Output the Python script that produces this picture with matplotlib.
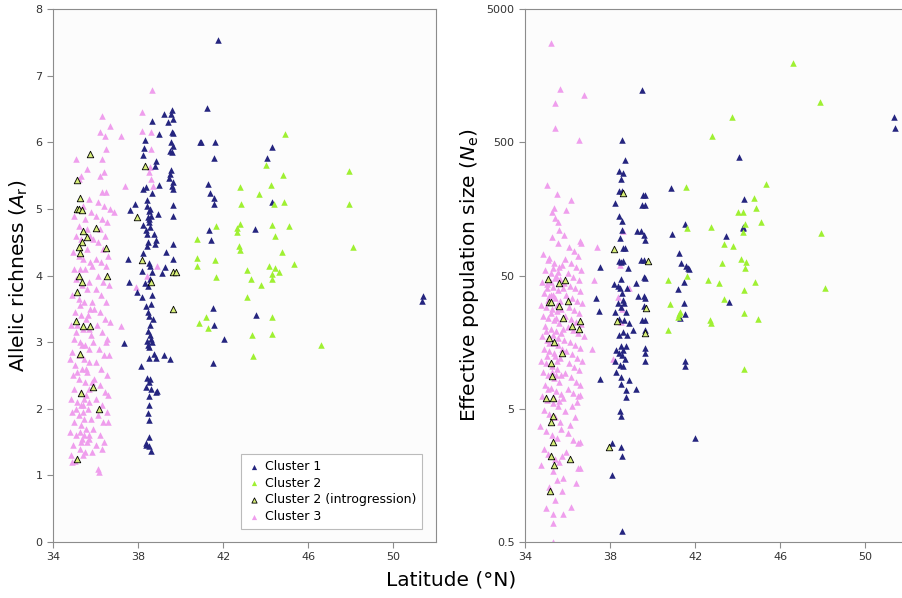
import matplotlib
matplotlib.use("Agg")
import matplotlib.pyplot as plt
import numpy as np

# ---- data: (latitude, allelic richness) ----
cluster1_ar = [
    (41.75, 7.54), (41.23, 6.52), (40.9, 6.01), (40.95, 6.0), (41.6, 6.0), (41.56, 5.77),
    (41.3, 5.38), (41.36, 5.24), (41.56, 5.17), (41.56, 5.08), (41.32, 4.68), (41.43, 4.54),
    (41.54, 3.51), (41.56, 3.25), (42.03, 3.04), (41.5, 2.69),
    (44.06, 5.76), (44.27, 5.93), (44.28, 5.1), (43.48, 4.7), (43.56, 3.41),
    (51.37, 3.69), (51.32, 3.61),
    (37.36, 2.99), (37.54, 4.25), (37.57, 3.9), (37.6, 4.99), (37.87, 5.07), (38.13, 2.64),
    (37.93, 3.75),
    (38.66, 6.32), (38.33, 6.04), (38.26, 5.91), (38.25, 5.81), (38.85, 5.72), (38.8, 5.65),
    (38.98, 5.36), (39.0, 6.12), (38.24, 5.3), (38.35, 5.33), (38.65, 5.24), (38.43, 5.13),
    (38.43, 5.05), (38.5, 4.97), (38.48, 4.88), (38.53, 4.85), (38.55, 4.73), (38.25, 4.76),
    (38.36, 4.69), (38.44, 4.63), (38.74, 4.62), (38.82, 4.54), (38.79, 4.48), (38.93, 4.92),
    (38.44, 4.44), (38.24, 4.34), (38.53, 4.19), (38.2, 4.07), (38.57, 4.14), (38.65, 4.05),
    (38.33, 3.88), (38.48, 3.84), (38.63, 3.71), (38.2, 3.68), (38.36, 3.54), (38.6, 3.57),
    (38.5, 3.39), (38.7, 3.34), (38.45, 3.16), (38.57, 3.11), (38.41, 3.02), (38.63, 3.0),
    (38.5, 2.92), (38.77, 2.82), (38.5, 2.76), (38.85, 2.76), (38.44, 2.46), (38.55, 2.45),
    (38.38, 2.33), (38.6, 2.3), (38.88, 2.26), (38.5, 2.19), (38.52, 2.06), (38.45, 1.94),
    (38.52, 1.83), (38.38, 1.49), (38.52, 1.57), (38.52, 1.44), (38.6, 1.36), (38.35, 1.46),
    (38.55, 5.0), (38.6, 4.9), (38.5, 4.8), (38.45, 4.5), (38.55, 3.95), (38.45, 3.45),
    (38.55, 3.25), (38.6, 3.05), (38.45, 2.95), (38.5, 2.4),
    (39.23, 6.42), (39.42, 6.31), (39.57, 6.49), (39.56, 6.43), (39.64, 6.35), (39.6, 6.15),
    (39.66, 6.14), (39.56, 6.0), (39.64, 5.95), (39.52, 5.87), (39.6, 5.85), (39.56, 5.58),
    (39.51, 5.52), (39.45, 5.47), (39.66, 5.4), (39.6, 5.34), (39.66, 5.3), (39.64, 5.06),
    (39.64, 4.89), (39.64, 4.48), (39.32, 4.35), (39.66, 4.25), (39.13, 4.04), (39.25, 4.13),
    (39.23, 2.8), (39.5, 2.75), (38.85, 2.25),
]

cluster2_ar = [
    (44.9, 6.12), (47.9, 5.57), (47.9, 5.08), (48.1, 4.43), (46.6, 2.96), (44.0, 5.66),
    (44.8, 5.51), (44.25, 5.36), (44.86, 5.11), (44.4, 5.08), (43.7, 5.22), (42.8, 5.33),
    (42.82, 5.07), (42.77, 4.78), (42.64, 4.71), (42.67, 4.65), (42.75, 4.45), (42.78, 4.39),
    (41.64, 4.75), (41.6, 4.24), (41.65, 3.97), (40.76, 4.55), (40.76, 4.27), (40.76, 4.14),
    (44.28, 4.76), (44.42, 4.59), (45.1, 4.74), (44.77, 4.35), (45.33, 4.17), (44.14, 4.14),
    (44.45, 4.12), (44.64, 4.05), (44.3, 4.03), (44.28, 3.95), (43.14, 4.09), (43.3, 3.95),
    (43.78, 3.86), (43.12, 3.68), (44.27, 3.38), (44.27, 3.12), (43.37, 3.1), (43.4, 2.79),
    (41.17, 3.37), (40.87, 3.28), (41.27, 3.21),
]

intro_ar = [
    (35.75, 5.83), (35.13, 5.44), (35.25, 5.16), (35.14, 5.0), (35.22, 5.0), (35.35, 4.99),
    (35.4, 4.67), (36.03, 4.71), (35.58, 4.58), (35.35, 4.5), (35.22, 4.43), (35.25, 4.34),
    (36.5, 4.42), (36.54, 4.0), (35.22, 3.99), (35.35, 3.9), (35.14, 3.75), (35.1, 3.32),
    (35.4, 3.24), (35.75, 3.24), (35.25, 2.82), (35.33, 2.24), (35.9, 2.33), (36.16, 1.99),
    (35.14, 1.24), (37.96, 4.88), (38.2, 4.24), (38.33, 5.65), (38.62, 3.9), (39.65, 3.5),
    (39.65, 4.06), (39.8, 4.05),
]

cluster3_ar = [
    (35.1, 5.75), (35.3, 5.5), (35.2, 5.45), (35.4, 5.05), (35.0, 4.9), (35.2, 4.75),
    (35.5, 4.85), (35.1, 4.6), (35.3, 4.55), (35.6, 4.7), (34.95, 4.35), (35.2, 4.3),
    (35.4, 4.25), (35.0, 4.1), (35.25, 4.1), (35.5, 4.1), (35.1, 3.95), (35.35, 3.85),
    (35.6, 3.8), (34.9, 3.7), (35.2, 3.65), (35.45, 3.6), (35.05, 3.45), (35.3, 3.4),
    (35.55, 3.35), (34.85, 3.25), (35.15, 3.25), (35.4, 3.2), (35.7, 3.2), (35.0, 3.05),
    (35.25, 3.0), (35.5, 2.95), (34.9, 2.85), (35.2, 2.8), (35.45, 2.75), (34.8, 2.75),
    (35.05, 2.65), (35.35, 2.6), (35.6, 2.55), (34.95, 2.5), (35.2, 2.45), (35.5, 2.4),
    (35.0, 2.3), (35.3, 2.25), (35.55, 2.2), (34.85, 2.15), (35.15, 2.1), (35.4, 2.05),
    (35.65, 2.0), (34.9, 1.95), (35.2, 1.9), (35.45, 1.85), (35.0, 1.8), (35.3, 1.75),
    (35.55, 1.7), (34.8, 1.65), (35.1, 1.6), (35.35, 1.55), (35.6, 1.5), (34.95, 1.45),
    (35.25, 1.4), (35.5, 1.35), (34.85, 1.3), (35.05, 1.22), (34.9, 1.2), (35.4, 1.3),
    (35.7, 1.55), (35.7, 2.3), (35.7, 2.9), (35.75, 3.5), (35.75, 4.2),
    (35.25, 3.55), (35.35, 2.95), (35.15, 2.55), (35.45, 2.15), (35.25, 1.65), (35.4, 1.95),
    (35.1, 2.0), (35.3, 2.05), (35.55, 2.6), (35.1, 3.15), (35.3, 1.5), (35.45, 1.6),
    (36.3, 6.4), (36.2, 6.15), (36.45, 6.1), (36.7, 6.25), (36.5, 5.9), (36.3, 5.75),
    (36.4, 5.55), (36.2, 5.5), (36.3, 5.25), (36.5, 5.25), (36.1, 5.1), (36.4, 5.05),
    (36.7, 5.0), (36.85, 4.95), (36.0, 4.9), (36.3, 4.85), (36.55, 4.8), (36.2, 4.7),
    (36.45, 4.6), (35.9, 4.55), (36.1, 4.5), (36.35, 4.4), (36.6, 4.3), (36.0, 4.25),
    (36.25, 4.2), (36.5, 4.15), (36.1, 4.0), (36.35, 3.9), (36.65, 3.85), (36.0, 3.8),
    (36.25, 3.7), (36.5, 3.6), (35.95, 3.5), (36.2, 3.45), (36.45, 3.35), (36.7, 3.3),
    (36.05, 3.25), (36.3, 3.15), (36.55, 3.05), (35.9, 3.0), (36.15, 2.9), (36.4, 2.8),
    (36.65, 2.8), (36.0, 2.7), (36.25, 2.6), (36.55, 2.5), (35.95, 2.45), (36.2, 2.35),
    (36.45, 2.25), (36.0, 2.15), (36.3, 2.05), (36.55, 1.95), (36.1, 1.9), (36.35, 1.8),
    (36.6, 1.8), (35.9, 1.7), (36.2, 1.6), (36.4, 1.5), (36.0, 1.45), (36.3, 1.4),
    (36.1, 1.1), (36.15, 1.05), (36.5, 3.0), (36.6, 2.2),
    (35.7, 5.15), (35.8, 4.95), (35.75, 4.6), (35.6, 4.4), (35.85, 4.15), (35.7, 3.9),
    (35.85, 3.6), (35.65, 3.4), (35.8, 3.1), (35.7, 2.7), (35.85, 2.4), (35.7, 2.1),
    (35.8, 1.85), (35.7, 1.6), (35.85, 1.35), (35.6, 5.6),
    (37.2, 6.1), (37.4, 5.34), (37.2, 3.24), (37.9, 3.82), (38.65, 6.79), (38.2, 6.46),
    (38.2, 6.17), (38.6, 6.15), (38.6, 5.9), (38.55, 5.63), (38.6, 5.45), (38.7, 5.35),
    (38.5, 5.55), (38.4, 4.0), (38.9, 4.15),
]

# ---- data: (latitude, effective population size) ----
cluster1_ne = [
    (39.52, 1236), (38.55, 519), (38.71, 366), (38.4, 304), (38.6, 292), (38.49, 263),
    (38.43, 214), (38.54, 214), (38.24, 175), (38.43, 140), (38.54, 129), (38.57, 109),
    (38.46, 95), (38.62, 80), (38.7, 80), (38.43, 64), (38.6, 64), (38.52, 63), (38.84, 57),
    (37.54, 58), (37.35, 34), (37.5, 27), (37.54, 8.4),
    (38.18, 43.5), (38.37, 42), (38.52, 47), (38.47, 40), (38.57, 37), (38.6, 33),
    (38.39, 31), (38.52, 29), (38.64, 31), (38.24, 26.5), (38.76, 26.5), (38.44, 23.6),
    (38.67, 23), (38.9, 22), (38.6, 18.7), (38.79, 18), (38.4, 17.8), (38.52, 14.8),
    (38.6, 13.9), (38.76, 14.8), (38.29, 13.8), (38.42, 13), (38.56, 12.6), (38.68, 11.8),
    (38.24, 11.4), (38.45, 10.7), (38.6, 10.4), (38.27, 9.4), (38.52, 8.7), (38.49, 7.7),
    (38.9, 8.2), (38.76, 6.9), (38.73, 6.1), (39.22, 7.0), (38.47, 4.85), (38.52, 4.4),
    (38.08, 2.77), (38.51, 2.57), (38.57, 2.2), (38.1, 1.6), (38.54, 0.6), (42.0, 3.0),
    (39.55, 201), (39.62, 201), (39.52, 168), (39.63, 168), (39.25, 107), (39.46, 107),
    (39.58, 100), (39.66, 93), (39.43, 65.5), (39.57, 65.5), (39.58, 48.8), (39.63, 48),
    (39.22, 44), (39.33, 35), (39.58, 35), (39.66, 34), (39.58, 29.7), (39.63, 23),
    (39.49, 23), (39.62, 19.4), (39.66, 14.4), (39.66, 13), (39.65, 11.4), (39.07, 19.4),
    (38.79, 40),
    (40.87, 226), (40.92, 102), (41.26, 74), (41.34, 62), (41.5, 121), (41.58, 59),
    (41.66, 57), (41.73, 56), (41.47, 45), (41.2, 39.5), (41.47, 31), (41.54, 25.5),
    (41.3, 23.9), (41.54, 11.4), (41.54, 10.4),
    (44.08, 388), (44.3, 189), (44.25, 116), (44.23, 113), (43.45, 99), (43.58, 31.6),
    (51.34, 780), (51.37, 636),
]

cluster2_ne = [
    (46.6, 1950), (47.88, 1000), (43.75, 769), (42.8, 557), (41.57, 229), (45.33, 245),
    (44.74, 190), (44.86, 161), (44.0, 149), (44.23, 149), (45.1, 126), (42.76, 116),
    (41.6, 113), (44.23, 106), (44.36, 121), (47.9, 105), (43.37, 86), (43.78, 83.5),
    (44.14, 66), (44.4, 63), (44.36, 57), (43.26, 62.5), (41.6, 50), (40.74, 46),
    (42.6, 46.6), (43.1, 43.6), (44.8, 44.4), (48.09, 40), (44.28, 38.6), (40.8, 30.7),
    (43.37, 33.3), (41.27, 26.5), (41.17, 24.5), (41.23, 25.5), (42.7, 23), (42.72, 22),
    (44.28, 26), (44.94, 23.6), (40.74, 19.6), (44.28, 10),
]

intro_ne = [
    (38.6, 207), (38.18, 78.7), (39.8, 64), (39.68, 28.4), (38.33, 22.7), (39.62, 18.4),
    (37.94, 2.6), (35.1, 47), (35.58, 44.2), (35.9, 46), (35.14, 31.7), (35.2, 31.5),
    (35.58, 29.7), (36.0, 32.4), (35.78, 24.1), (36.2, 21), (36.57, 22.9), (36.54, 19.7),
    (35.14, 17), (35.36, 15.9), (35.74, 13), (35.2, 11), (35.27, 8.8), (35.0, 6.0),
    (35.3, 6.0), (35.3, 4.4), (35.2, 4.0), (35.33, 2.8), (35.2, 2.2), (35.36, 1.9),
    (36.1, 2.1), (35.16, 1.2),
]

cluster3_ne = [
    (35.24, 2760), (35.63, 1250), (35.4, 982), (36.75, 1127), (35.42, 636), (36.52, 522),
    (35.03, 237), (35.5, 205), (35.27, 151), (35.35, 160), (35.55, 126), (35.25, 97),
    (35.56, 88), (34.85, 72), (35.1, 65), (35.35, 62), (35.6, 58), (34.95, 55), (35.2, 52),
    (35.45, 50), (35.65, 47), (34.8, 45), (35.05, 43), (35.3, 41), (35.55, 39), (34.9, 37),
    (35.15, 35), (35.4, 34), (35.65, 32), (34.75, 30), (35.0, 29), (35.25, 28), (35.5, 27),
    (34.85, 25), (35.1, 24), (35.35, 23), (35.6, 22), (34.95, 21), (35.2, 20), (35.45, 19),
    (35.7, 18.5), (34.8, 17.5), (35.05, 16.5), (35.3, 15.5), (35.55, 15), (34.9, 14),
    (35.15, 13.5), (35.4, 12.5), (35.65, 12), (34.75, 11.5), (35.0, 11), (35.25, 10.5),
    (35.5, 10), (34.85, 9.5), (35.1, 9), (35.35, 8.5), (35.6, 8), (34.95, 7.6), (35.2, 7.2),
    (35.45, 6.8), (35.7, 6.5), (34.8, 6.2), (35.05, 5.8), (35.3, 5.5), (35.55, 5.2),
    (34.9, 4.9), (35.15, 4.6), (35.4, 4.3), (35.65, 4.0), (34.72, 3.7), (35.0, 3.4),
    (35.25, 3.2), (35.5, 3.0), (34.88, 2.5), (35.1, 2.3), (35.4, 2.1), (35.6, 2.0),
    (34.75, 1.9), (35.3, 1.7), (35.5, 1.45), (35.0, 0.9), (35.3, 0.81), (35.3, 0.7),
    (35.3, 0.5), (35.42, 1.03), (35.74, 1.2), (35.15, 1.3),
    (35.2, 45), (35.4, 48), (35.1, 33), (35.3, 36), (35.5, 30), (35.2, 26), (35.45, 24),
    (35.0, 19), (35.3, 18), (35.55, 17), (35.15, 15.5), (35.35, 13), (35.05, 12.5),
    (35.5, 11.5), (35.25, 9.5), (35.45, 9), (35.1, 7), (35.35, 6), (35.6, 5.7), (35.2, 36),
    (35.05, 40), (35.55, 53), (35.3, 57), (35.15, 68), (35.6, 110), (35.4, 135),
    (36.14, 185), (35.94, 155), (35.83, 100), (36.6, 91), (36.65, 88), (36.07, 82),
    (36.3, 76), (36.5, 70), (35.9, 67), (36.15, 62), (36.4, 58), (36.65, 55), (36.0, 52),
    (36.25, 49), (36.55, 46), (35.85, 44), (36.1, 42), (36.35, 40), (36.6, 38), (35.95, 36),
    (36.2, 34), (36.45, 32), (36.7, 31), (36.05, 29), (36.3, 27.5), (36.55, 26), (35.9, 25),
    (36.15, 23.5), (36.4, 22.5), (36.65, 21.5), (36.0, 20.5), (36.25, 19.5), (36.5, 18.5),
    (36.75, 17.5), (35.85, 16.5), (36.1, 15.8), (36.35, 15), (36.6, 14.2), (35.95, 13.5),
    (36.2, 12.8), (36.45, 12), (36.7, 11.5), (36.05, 11), (36.3, 10.3), (36.55, 9.7),
    (35.9, 9.2), (36.15, 8.6), (36.4, 8), (36.6, 7.5), (36.0, 7), (36.25, 6.6), (36.5, 6.2),
    (36.57, 6.3), (35.86, 4.85), (36.22, 5.2), (36.45, 5.6), (36.0, 3.3), (36.25, 2.9),
    (36.5, 2.76), (36.6, 2.8), (35.94, 2.35), (36.5, 1.8), (36.6, 1.8), (36.4, 1.38),
    (36.18, 0.91), (35.78, 0.81), (36.1, 3.8), (36.35, 4.3),
    (35.75, 60), (35.8, 40), (35.7, 28), (35.8, 20), (35.75, 14), (35.7, 9), (35.8, 6),
    (35.7, 3.5), (35.75, 2.2), (35.8, 1.5),
    (37.4, 82), (37.22, 46), (37.16, 14), (38.13, 11.8), (38.6, 107), (38.5, 22.4),
    (38.36, 34.7), (38.9, 40), (38.55, 28), (38.45, 60),
]

x_ticks = [34, 38, 42, 46, 50]
ar_ticks = [0, 1, 2, 3, 4, 5, 6, 7, 8]
ne_ticks = [0.5, 5, 50, 500, 5000]
ne_labels = ["0.5", "5", "50", "500", "5000"]

c_navy = "#25257f"
c_lime = "#9ff032"
c_intro = "#d6ee78"
c_pink = "#ef9eed"

fig = plt.figure(figsize=(9.02, 5.98), dpi=100)
ax1 = fig.add_axes([53 / 902, 56 / 598, 383 / 902, 533 / 598])
ax2 = fig.add_axes([525 / 902, 56 / 598, 383 / 902, 533 / 598])


def draw(ax, c1, c2, intro, c3):
    ms = 22
    for pts, col, lab in [(c3, c_pink, "Cluster 3"), (c1, c_navy, "Cluster 1"),
                          (c2, c_lime, "Cluster 2")]:
        a = np.array(pts)
        ax.scatter(a[:, 0], a[:, 1], marker="^", s=ms, color=col, linewidths=0,
                   label=lab, zorder=2)
    a = np.array(intro)
    ax.scatter(a[:, 0], a[:, 1], marker="^", s=ms, facecolor=c_intro,
               edgecolor="black", linewidths=0.6, label="Cluster 2 (introgression)",
               zorder=3)
    ax.set_facecolor("#fcfcfc")
    ax.set_xlim(34, 52)
    ax.set_xticks(x_ticks)
    for s in ax.spines.values():
        s.set_color("#8c8c8c")
    ax.tick_params(labelsize=8, colors="#333333", length=4, width=0.8)
    ax.tick_params(axis="both", color="#8c8c8c")


draw(ax1, cluster1_ar, cluster2_ar, intro_ar, cluster3_ar)
ax1.set_ylim(0, 8)
ax1.set_yticks(ar_ticks)
ax1.set_ylabel("Allelic richness ($A_\\mathrm{r}$)", fontsize=14.5, labelpad=4)

draw(ax2, cluster1_ne, cluster2_ne, intro_ne, cluster3_ne)
ax2.set_yscale("log")
ax2.set_ylim(0.5, 5000)
ax2.set_yticks(ne_ticks)
ax2.set_yticklabels(ne_labels)
ax2.minorticks_off()
ax2.set_ylabel("Effective population size ($N_\\mathrm{e}$)", fontsize=14.5, labelpad=4)

# legend in the left panel
h, l = ax1.get_legend_handles_labels()
order = [l.index(n) for n in ["Cluster 1", "Cluster 2", "Cluster 2 (introgression)", "Cluster 3"]]
leg = ax1.legend([h[i] for i in order], [l[i] for i in order], loc="lower right",
                 bbox_to_anchor=(0.98, 0.013), fontsize=9, frameon=True, fancybox=False,
                 edgecolor="#bbbbbb", framealpha=1, handletextpad=0.3, labelspacing=0.3,
                 borderpad=0.45, handlelength=1.2, markerscale=0.8)
leg.get_frame().set_linewidth(0.8)

fig.text(0.5, 0.03, "Latitude (°N)", ha="center", va="center", fontsize=14.5)

fig.savefig("out.png", dpi=100)
